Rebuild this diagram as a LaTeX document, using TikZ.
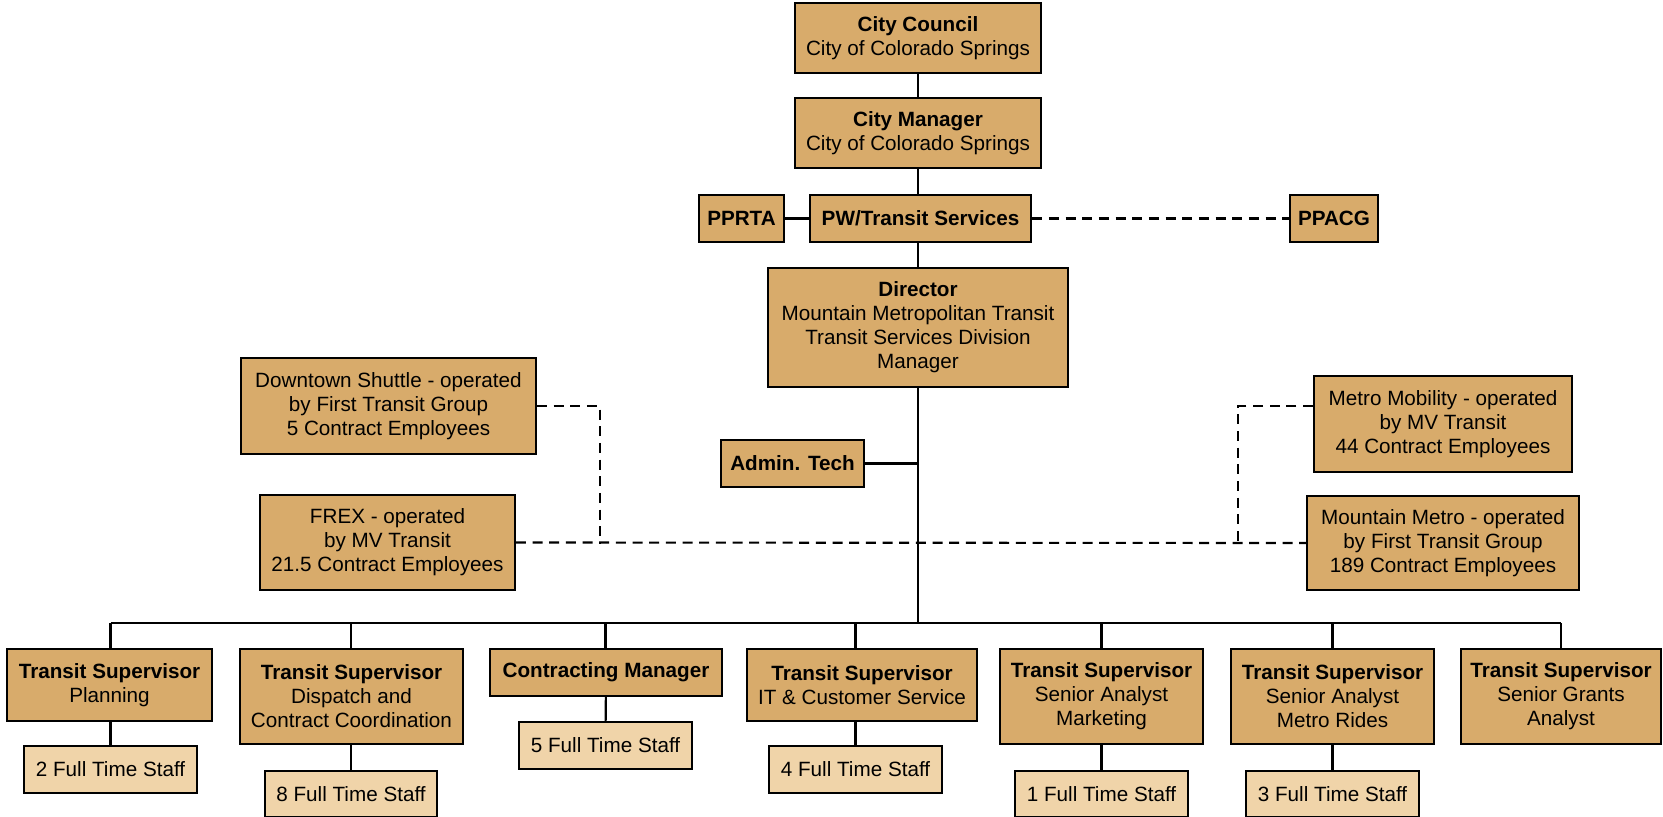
\documentclass[tikz,border=0pt]{standalone}
\usepackage{fontspec}
\setmainfont{Liberation Sans}
\usepackage{tikz}

\definecolor{tan}{HTML}{D8AB6B}
\definecolor{lighttan}{HTML}{F0D4A9}

\tikzset{
  unit/.style={draw=black, line width=1.5pt, fill=tan, align=center, inner sep=0pt,
    text=black, font=\fontsize{15.5}{18}\selectfont},
  staff/.style={unit, fill=lighttan},
  link/.style={line width=1.6pt},
  contract/.style={line width=1.6pt, dash pattern=on 7.5pt off 5pt}
}

\begin{document}
\begin{tikzpicture}[x=0.75pt,y=-0.75pt]
\useasboundingbox (0,0) rectangle (1663,817);

% city and top management
\node[unit, minimum width=184.5pt, minimum height=52.5pt] (council) at (918,38) {\textbf{City Council}\\City of Colorado Springs};
\node[unit, minimum width=184pt, minimum height=52.5pt] (manager) at (918,133) {\textbf{City Manager}\\City of Colorado Springs};
\node[unit, minimum width=64pt, minimum height=35pt] (pprta) at (741.5,218.5) {\textbf{PPRTA}};
\node[unit, minimum width=166pt, minimum height=35pt] (pw) at (920.5,218.5) {\textbf{PW/Transit Services}};
\node[unit, minimum width=66pt, minimum height=35pt] (ppacg) at (1334,218.5) {\textbf{PPACG}};
\node[unit, minimum width=225pt, minimum height=89pt] (director) at (918,327.5) {\textbf{Director}\\Mountain Metropolitan Transit\\Transit Services Division\\Manager};
\node[unit, minimum width=107pt, minimum height=35pt] (admin) at (792.5,463.5) {\textbf{Admin. Tech}};

% contract operators
\node[unit, minimum width=221pt, minimum height=72pt] (shuttle) at (388.5,406) {Downtown Shuttle - operated\\by First Transit Group\\5 Contract Employees};
\node[unit, minimum width=191pt, minimum height=71pt] (frex) at (387.5,542.5) {FREX - operated\\by MV Transit\\21.5 Contract Employees};
\node[unit, minimum width=193.5pt, minimum height=72pt] (mobility) at (1443,424) {Metro Mobility - operated\\by MV Transit\\44 Contract Employees};
\node[unit, minimum width=204pt, minimum height=70.5pt] (metro) at (1443,543) {Mountain Metro - operated\\by First Transit Group\\189 Contract Employees};

% supervisors
\node[unit, minimum width=154pt, minimum height=54pt] (tsplan) at (109.5,685) {\textbf{Transit Supervisor}\\Planning};
\node[unit, minimum width=167pt, minimum height=71pt] (tsdisp) at (351.5,696.5) {\textbf{Transit Supervisor}\\Dispatch and\\Contract Coordination};
\node[unit, minimum width=174pt, minimum height=35pt] (cmgr) at (606,672.5) {\textbf{Contracting Manager}};
\node[unit, minimum width=172.5pt, minimum height=54pt] (tsit) at (862,685) {\textbf{Transit Supervisor}\\IT \& Customer Service};
\node[unit, minimum width=152pt, minimum height=71pt] (tsmkt) at (1101.5,696.5) {\textbf{Transit Supervisor}\\Senior Analyst\\Marketing};
\node[unit, minimum width=152pt, minimum height=71pt] (tsrides) at (1332.5,696.5) {\textbf{Transit Supervisor}\\Senior Analyst\\Metro Rides};
\node[unit, minimum width=150pt, minimum height=71pt] (tsgrant) at (1561,696.5) {\textbf{Transit Supervisor}\\Senior Grants\\Analyst};

% staff
\node[staff, minimum width=130pt, minimum height=35pt] (s2) at (110.5,769.5) {2 Full Time Staff};
\node[staff, minimum width=129pt, minimum height=34.5pt] (s8) at (351,794) {8 Full Time Staff};
\node[staff, minimum width=130pt, minimum height=35pt] (s5) at (605.5,745.5) {5 Full Time Staff};
\node[staff, minimum width=130pt, minimum height=35pt] (s4) at (855.5,769.5) {4 Full Time Staff};
\node[staff, minimum width=130pt, minimum height=34.5pt] (s1) at (1101.5,794) {1 Full Time Staff};
\node[staff, minimum width=130pt, minimum height=34.5pt] (s3) at (1332.5,794) {3 Full Time Staff};

\coordinate (bus) at (918,623);
\coordinate (ljoin) at (600,543);
\coordinate (rjoin) at (1238,543);

% solid reporting lines
\draw[link] (council) -- (manager);
\draw[link] (manager.south) -- (manager.south |- pw.north);
\draw[link] (pprta) -- (pw);
\draw[link] (pw.south -| director) -- (director.north);
\draw[link] (director) -- (bus);
\draw[link] (admin.east) -- (admin.east -| bus);
\draw[link] (bus -| s2) -- (bus -| tsgrant);
\draw[link] (bus -| s2) -- (tsplan.north -| s2);
\draw[link] (bus -| s8) -- (tsdisp.north -| s8);
\draw[link] (bus -| s5) -- (cmgr.north -| s5);
\draw[link] (bus -| s4) -- (tsit.north -| s4);
\draw[link] (bus -| s1) -- (tsmkt.north -| s1);
\draw[link] (bus -| s3) -- (tsrides.north -| s3);
\draw[link] (bus -| tsgrant) -- (tsgrant.north);
\draw[link] (tsplan.south -| s2) -- (s2);
\draw[link] (tsdisp.south -| s8) -- (s8);
\draw[link] (cmgr) -- (s5);
\draw[link] (tsit.south -| s4) -- (s4);
\draw[link] (tsmkt) -- (s1);
\draw[link] (tsrides) -- (s3);

% dashed contract lines
\draw[contract] (pw) -- (ppacg);
\draw[contract] (frex.east) -- (metro.west);
\draw[contract] (shuttle.east) -| (ljoin);
\draw[contract] (mobility.west |- shuttle.east) -| (rjoin);
\end{tikzpicture}
\end{document}
